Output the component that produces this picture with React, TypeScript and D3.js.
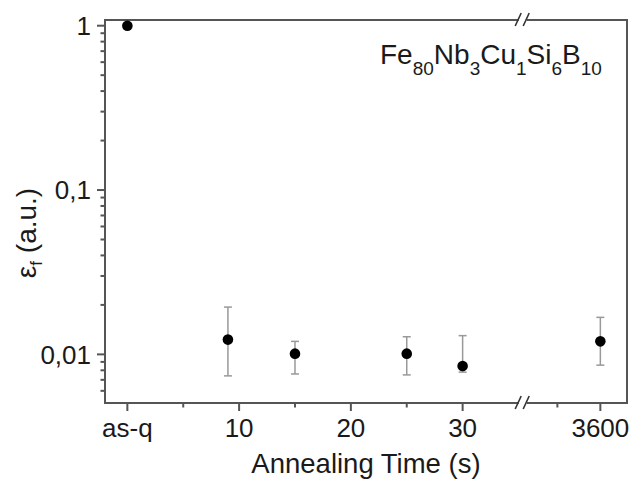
import React from "react";
import * as d3 from "d3";

// ---- data ----
const xLabels = ["as-q", "10", "20", "30", "3600"];
const majorTicksLeft = [0, 10, 20, 30];
const minorTicksLeft = [5, 15, 25];
const majorTicksRight = [3600];
const minorTicksRight = [3550];

const times = [0, 9, 15, 25, 30, 3600];
const strain = [1.0, 0.0123, 0.0101, 0.0101, 0.0085, 0.012];
const errLow = [null, 0.0074, 0.0076, 0.0075, 0.0078, 0.0086];
const errHigh = [null, 0.0194, 0.012, 0.0128, 0.013, 0.0168];

const yMajorTicks = [1, 0.1, 0.01];
const yMajorLabels = ["1", "0,1", "0,01"];

const W = 630;
const H = 480;
const left = 105;
const right = 627;
const top = 20;
const bottom = 403;
const breakX = 522.7;

const font = "'Liberation Sans', Arial, Helvetica, sans-serif";
const axisColor = "#555";
const textColor = "#1a1a1a";

export default function App() {
  const xLeft = d3.scaleLinear().domain([-2, 35]).range([left, 518.5]);
  const xRight = d3.scaleLinear().domain([3510, 3631]).range([523, right]);
  const x = (v: number) => (v > 1000 ? xRight(v) : xLeft(v));
  const y = d3.scaleLog().domain([0.00506, 1.083]).range([bottom, top]);

  // minor y ticks
  const yMinor: number[] = [];
  [0.001, 0.01, 0.1].forEach((dec) => {
    for (let k = 2; k <= 9; k++) {
      const v = dec * k;
      if (v > 0.00506 && v < 1.083 && !yMajorTicks.includes(v)) yMinor.push(v);
    }
  });

  const xMajor = [...majorTicksLeft, ...majorTicksRight];
  const xMinor = [...minorTicksLeft, ...minorTicksRight];

  const slash = (cx: number, cy: number, key: string) => (
    <g key={key}>
      <rect x={cx - 4} y={cy - 2} width={8} height={4} fill="#fff" />
      <line x1={cx - 7.5} y1={cy + 6} x2={cx - 1.5} y2={cy - 7} stroke="#333" strokeWidth={1.6} />
      <line x1={cx + 0.5} y1={cy + 6} x2={cx + 6.5} y2={cy - 7} stroke="#333" strokeWidth={1.6} />
    </g>
  );

  return (
    <svg
      width={W}
      height={H}
      style={{ position: "absolute", left: 0, top: 0, background: "#fff" }}
      fontFamily={font}
    >
      <rect x={0} y={0} width={W} height={H} fill="#fff" />
      {/* frame */}
      <rect
        x={left}
        y={top}
        width={right - left}
        height={bottom - top}
        fill="none"
        stroke={axisColor}
        strokeWidth={2}
      />
      {/* y ticks */}
      {yMajorTicks.map((v, i) => (
        <g key={"ym" + i}>
          <line x1={left - 8} x2={left} y1={y(v)} y2={y(v)} stroke={axisColor} strokeWidth={2} />
          <text
            x={91}
            y={y(v) + 9.3}
            textAnchor="end"
            fontSize={26}
            fill={textColor}
          >
            {yMajorLabels[i]}
          </text>
        </g>
      ))}
      {yMinor.map((v, i) => (
        <line key={"yn" + i} x1={left - 4.5} x2={left} y1={y(v)} y2={y(v)} stroke={axisColor} strokeWidth={2} />
      ))}
      {/* x ticks */}
      {xMajor.map((v, i) => (
        <g key={"xm" + i}>
          <line x1={x(v)} x2={x(v)} y1={bottom} y2={bottom + 8} stroke={axisColor} strokeWidth={2} />
          <text x={x(v)} y={437} textAnchor="middle" fontSize={26} fill={textColor}>
            {xLabels[i]}
          </text>
        </g>
      ))}
      {xMinor.map((v, i) => (
        <line key={"xn" + i} x1={x(v)} x2={x(v)} y1={bottom} y2={bottom + 4.5} stroke={axisColor} strokeWidth={2} />
      ))}
      {/* breaks */}
      {slash(breakX, top, "bt")}
      {slash(breakX, bottom, "bb")}
      {/* error bars */}
      {times.map((t, i) =>
        errLow[i] == null ? null : (
          <g key={"e" + i} stroke="#999" strokeWidth={1.5}>
            <line x1={x(t)} x2={x(t)} y1={y(errHigh[i] as number)} y2={y(errLow[i] as number)} />
            <line x1={x(t) - 4} x2={x(t) + 4} y1={y(errHigh[i] as number)} y2={y(errHigh[i] as number)} />
            <line x1={x(t) - 4} x2={x(t) + 4} y1={y(errLow[i] as number)} y2={y(errLow[i] as number)} />
          </g>
        )
      )}
      {/* points */}
      {times.map((t, i) => (
        <circle key={"p" + i} cx={x(t)} cy={y(strain[i])} r={5.3} fill="#000" />
      ))}
      {/* annotation */}
      <text x={380} y={63.5} fontSize={28} fill={textColor}>
        <tspan>Fe</tspan>
        <tspan fontSize={19} dy={11}>80</tspan>
        <tspan dy={-11}>Nb</tspan>
        <tspan fontSize={19} dy={11}>3</tspan>
        <tspan dy={-11}>Cu</tspan>
        <tspan fontSize={19} dy={11}>1</tspan>
        <tspan dy={-11}>Si</tspan>
        <tspan fontSize={19} dy={11}>6</tspan>
        <tspan dy={-11}>B</tspan>
        <tspan fontSize={19} dy={11}>10</tspan>
      </text>
      {/* axis titles */}
      <text x={(left + right) / 2} y={473} textAnchor="middle" fontSize={27.5} fill={textColor}>
        Annealing Time (s)
      </text>
      <text
        transform={`translate(36,233) rotate(-90)`}
        textAnchor="middle"
        fontSize={28}
        fill={textColor}
      >
        <tspan>ε</tspan>
        <tspan fontSize={17} dy={6}>f</tspan>
        <tspan dy={-6}> (a.u.)</tspan>
      </text>
    </svg>
  );
}
